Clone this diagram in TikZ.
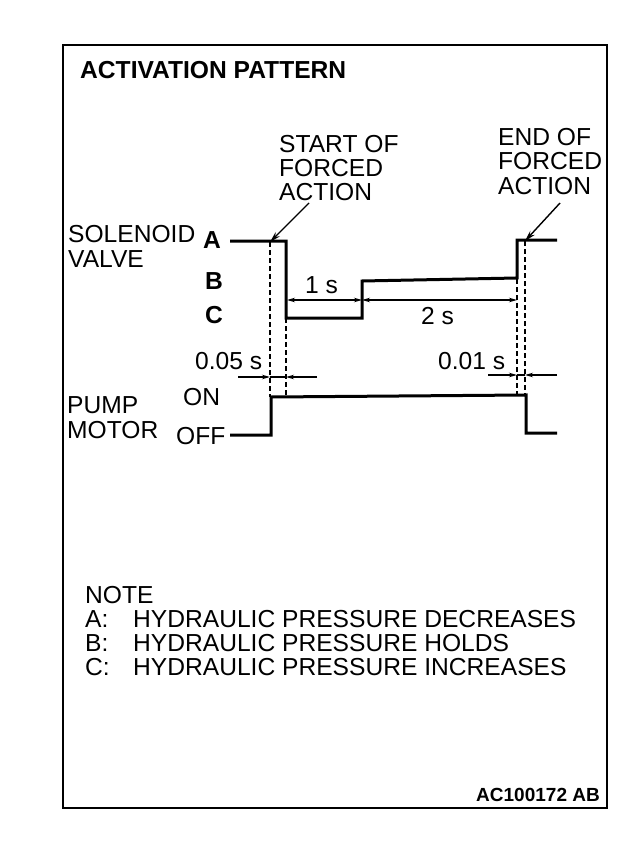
\documentclass[tikz,border=0pt]{standalone}
\usepackage{fontspec}
\setmainfont{Liberation Sans}
\usetikzlibrary{arrows.meta}
\begin{document}
\begin{tikzpicture}[x=1pt,y=-1pt,
  lbl/.style={font=\fontsize{24.6}{28}\selectfont, inner sep=0pt, anchor=west},
  blbl/.style={font=\fontsize{24.6}{28}\selectfont\bfseries, inner sep=0pt, anchor=west},
  wave/.style={line width=3pt, line join=miter},
  dimarrow/.style={line width=1.2pt, -{Stealth[length=8pt,width=4.5pt]}},
  dimline/.style={line width=1.2pt},
  guide/.style={line width=1.2pt, dash pattern=on 5pt off 3pt},
  leader/.style={line width=1.4pt, -{Stealth[length=11pt,width=6pt]}}]
\useasboundingbox (0,0) rectangle (640,842);
\fill[white] (0,0) rectangle (640,842);
% frame
\draw[line width=2.5pt] (63,45) rectangle (607,808);
% title
\node[blbl] (title) at (80,70) {ACTIVATION PATTERN};
% labels left
\node[lbl] (sol) at (68,234) {SOLENOID};
\node[lbl] (valve) at (68,259) {VALVE};
\node[blbl] (la) at (203,240) {A};
\node[blbl] (lb) at (205,281) {B};
\node[blbl] (lc) at (205,315) {C};
\node[lbl] (pump) at (67,405) {PUMP};
\node[lbl] (motor) at (67,430) {MOTOR};
\node[lbl] (on) at (183,397) {ON};
\node[lbl] (off) at (176,436) {OFF};
% start / end texts
\node[lbl] (s1) at (279,144) {START OF};
\node[lbl] (s2) at (279,168) {FORCED};
\node[lbl] (s3) at (279,192) {ACTION};
\node[lbl] (e1) at (498,137) {END OF};
\node[lbl] (e2) at (498,161) {FORCED};
\node[lbl] (e3) at (498,186) {ACTION};
% solenoid waveform points
\coordinate (w0) at (230,241);
\coordinate (w1) at (286,241);
\coordinate (w2) at (286,318);
\coordinate (w3) at (362,318);
\coordinate (w4) at (362,281);
\coordinate (w5) at (517,278);
\coordinate (w6) at (517,240);
\coordinate (w7) at (557,240);
\draw[wave] (w0) -- (w1) -- (w2) -- (w3) -- (w4) -- (w5) -- (w6) -- (w7);
% pump waveform
\coordinate (p0) at (230,435);
\coordinate (p1) at (271,435);
\coordinate (p2) at (271,397);
\coordinate (p3) at (526,395);
\coordinate (p4) at (526,433);
\coordinate (p5) at (557,433);
\draw[wave] (p0) -- (p1) -- (p2) -- (p3) -- (p4) -- (p5);
% guides
\coordinate (g1t) at (270,242); \coordinate (g1b) at (270,397);
\coordinate (g2t) at (286,318); \coordinate (g2b) at (286,396);
\coordinate (g3t) at (517,279); \coordinate (g3b) at (517,395);
\coordinate (g4t) at (525,241); \coordinate (g4b) at (525,395);
\draw[guide] (g1t) -- (g1b);
\draw[guide] (g2t) -- (g2b);
\draw[guide] (g3t) -- (g3b);
\draw[guide] (g4t) -- (g4b);
% leaders
\coordinate (ls) at (309,203);
\coordinate (le) at (560,203);
\draw[leader] (ls) -- (g1t);
\draw[leader] (le) -- (g4t);
% 1 s and 2 s dimensions
\coordinate (d1a) at (287,300);
\coordinate (d1m) at (325,300);
\coordinate (d1b) at (362,300);
\coordinate (d2m) at (440,300);
\coordinate (d2b) at (517,300);
\draw[dimarrow] (d1m) -- (d1a);
\draw[dimarrow] (d1m) -- (d1b);
\draw[dimarrow] (d2m) -- (d1b);
\draw[dimarrow] (d2m) -- (d2b);
\node[lbl] (t1) at (305,285) {1 s};
\node[lbl] (t2) at (421,316) {2 s};
% 0.05 s
\coordinate (q0) at (238,377);
\coordinate (q1) at (270,377);
\coordinate (q2) at (286,377);
\coordinate (q3) at (317,377);
\draw[dimarrow] (q0) -- (q1);
\draw[dimarrow] (q3) -- (q2);
\draw[dimline] (q1) -- (q2);
\node[lbl] (t005) at (195,361) {0.05 s};
% 0.01 s
\coordinate (r0) at (488,375);
\coordinate (r1) at (517,375);
\coordinate (r2) at (525,375);
\coordinate (r3) at (557,375);
\draw[dimarrow] (r0) -- (r1);
\draw[dimarrow] (r3) -- (r2);
\draw[dimline] (r1) -- (r2);
\node[lbl] (t001) at (438,361) {0.01 s};
% notes
\node[lbl] (note) at (85,595) {NOTE};
\node[lbl] (na) at (85,619) {A:};
\node[lbl] (nb) at (85,643) {B:};
\node[lbl] (nc) at (85,667) {C:};
\node[lbl] (nat) at (133,619) {HYDRAULIC PRESSURE DECREASES};
\node[lbl] (nbt) at (133,643) {HYDRAULIC PRESSURE HOLDS};
\node[lbl] (nct) at (133,667) {HYDRAULIC PRESSURE INCREASES};
% code
\node[font=\fontsize{19}{22}\selectfont\bfseries, inner sep=0pt, anchor=east] (code) at (600,795) {AC100172 AB};
\end{tikzpicture}
\end{document}
